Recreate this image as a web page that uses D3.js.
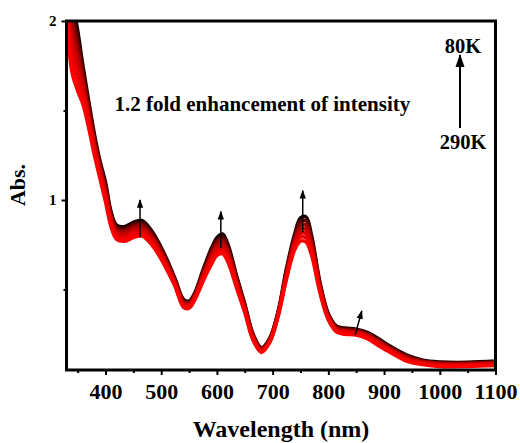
<!DOCTYPE html>
<html>
<head>
<meta charset="utf-8">
<script src="https://cdn.jsdelivr.net/npm/d3@7"></script>
<style>
  body { margin: 0; background: #fff; }
  svg { display: block; font-family: "Liberation Serif", "Times New Roman", serif; font-weight: bold; }
</style>
</head>
<body>
<div id="chart"></div>
<script>
// wavelength grid (nm) shared by all the spectra
let wavelength = [330, 340, 350, 360, 370, 380, 390, 400, 410, 420,
  435, 450, 465, 480, 495, 510, 525, 540, 550, 560,
  575, 590, 600, 610, 620, 635, 650, 665, 680, 695,
  710, 725, 740, 750, 760, 770, 785, 800, 815, 830,
  850, 870, 890, 910, 940, 970, 1000, 1050, 1100];

let abs290K = [2.02, 1.71, 1.61, 1.53, 1.40, 1.25, 1.12, 0.99, 0.85, 0.78,
  0.77, 0.79, 0.80, 0.76, 0.695, 0.61, 0.515, 0.40, 0.395, 0.44,
  0.545, 0.64, 0.69, 0.70, 0.65, 0.51, 0.37, 0.215, 0.148, 0.205,
  0.35, 0.56, 0.725, 0.77, 0.765, 0.69, 0.48, 0.33, 0.262, 0.25,
  0.245, 0.225, 0.185, 0.15, 0.10, 0.08, 0.07, 0.07, 0.075];

let abs260K = [2.075, 1.78, 1.665, 1.565, 1.425, 1.27, 1.137, 1.008, 0.864, 0.793,
  0.784, 0.804, 0.814, 0.773, 0.707, 0.62, 0.523, 0.408, 0.402, 0.447,
  0.556, 0.655, 0.707, 0.718, 0.667, 0.522, 0.378, 0.221, 0.153, 0.209,
  0.355, 0.57, 0.74, 0.792, 0.788, 0.708, 0.49, 0.336, 0.268, 0.256,
  0.25, 0.231, 0.192, 0.156, 0.106, 0.084, 0.074, 0.074, 0.079];

let abs230K = [2.13, 1.85, 1.725, 1.60, 1.45, 1.29, 1.153, 1.027, 0.878, 0.807,
  0.797, 0.818, 0.828, 0.787, 0.718, 0.63, 0.53, 0.415, 0.408, 0.453,
  0.567, 0.67, 0.723, 0.737, 0.683, 0.533, 0.387, 0.227, 0.157, 0.213,
  0.36, 0.58, 0.755, 0.813, 0.812, 0.727, 0.50, 0.342, 0.273, 0.262,
  0.256, 0.237, 0.198, 0.162, 0.112, 0.088, 0.078, 0.078, 0.083];

let abs200K = [2.185, 1.915, 1.78, 1.635, 1.475, 1.31, 1.17, 1.045, 0.893, 0.82,
  0.811, 0.833, 0.843, 0.80, 0.73, 0.64, 0.538, 0.423, 0.415, 0.46,
  0.578, 0.685, 0.74, 0.755, 0.70, 0.545, 0.395, 0.233, 0.162, 0.218,
  0.365, 0.59, 0.77, 0.835, 0.835, 0.745, 0.51, 0.348, 0.279, 0.268,
  0.262, 0.243, 0.205, 0.168, 0.118, 0.093, 0.083, 0.082, 0.088];

let abs160K = [2.24, 1.985, 1.835, 1.67, 1.50, 1.33, 1.187, 1.063, 0.907, 0.833,
  0.825, 0.847, 0.857, 0.813, 0.742, 0.65, 0.545, 0.43, 0.422, 0.467,
  0.588, 0.70, 0.757, 0.773, 0.717, 0.557, 0.403, 0.238, 0.166, 0.222,
  0.37, 0.60, 0.785, 0.857, 0.858, 0.763, 0.52, 0.353, 0.284, 0.273,
  0.267, 0.248, 0.212, 0.173, 0.123, 0.097, 0.087, 0.085, 0.092];

let abs120K = [2.295, 2.05, 1.895, 1.705, 1.525, 1.35, 1.203, 1.082, 0.921, 0.847,
  0.838, 0.861, 0.871, 0.827, 0.753, 0.66, 0.553, 0.438, 0.428, 0.473,
  0.599, 0.715, 0.773, 0.792, 0.733, 0.568, 0.412, 0.244, 0.171, 0.226,
  0.375, 0.61, 0.80, 0.878, 0.882, 0.782, 0.53, 0.359, 0.29, 0.279,
  0.273, 0.254, 0.218, 0.179, 0.129, 0.101, 0.091, 0.089, 0.096];

let abs80K = [2.35, 2.12, 1.95, 1.74, 1.55, 1.37, 1.22, 1.10, 0.935, 0.86,
  0.852, 0.875, 0.885, 0.84, 0.765, 0.67, 0.56, 0.445, 0.435, 0.48,
  0.61, 0.73, 0.79, 0.81, 0.75, 0.58, 0.42, 0.25, 0.175, 0.23,
  0.38, 0.62, 0.815, 0.90, 0.905, 0.80, 0.54, 0.365, 0.295, 0.285,
  0.278, 0.26, 0.225, 0.185, 0.135, 0.105, 0.095, 0.093, 0.10];

let temperatures = ["290K", "260K", "230K", "200K", "160K", "120K", "80K"];
let spectra = [abs290K, abs260K, abs230K, abs200K, abs160K, abs120K, abs80K];
let lineColors = ["#ff0000", "#f00000", "#dc0000", "#c20000", "#9c0000", "#640000", "#1c0000"];

let xTicks = [400, 500, 600, 700, 800, 900, 1000, 1100];
let xMinorTicks = [350, 450, 550, 650, 750, 850, 950, 1050];
let yTicks = [1, 2];
let yMinorTicks = [0.5, 1.5];

// little arrows over the bands (start wavelength/abs -> tip wavelength/abs)
let arrowFromNm = [462, 607, 754, 848];
let arrowFromAbs = [0.79, 0.73, 0.82, 0.245];
let arrowToNm = [462, 607, 754, 860];
let arrowToAbs = [1.0, 0.935, 1.052, 0.38];

let margin = { top: 21, right: 24.5, bottom: 73, left: 66.5 };
let width = 520 - margin.left - margin.right;
let height = 443 - margin.top - margin.bottom;

var xScale = d3.scaleLinear()
    .domain([330, 1100])
    .range([0, width]);

var yScale = d3.scaleLinear()
    .domain([0.05, 2])
    .range([height, 0]);

var svg = d3.select("#chart").append("svg")
    .attr("width", 520)
    .attr("height", 443);

var defs = svg.append("defs");
defs.append("clipPath").attr("id", "plotClip")
  .append("rect")
    .attr("width", width)
    .attr("height", height);

defs.append("marker")
    .attr("id", "headSmall")
    .attr("viewBox", "0 -4 10 8")
    .attr("refX", 9)
    .attr("refY", 0)
    .attr("markerUnits", "userSpaceOnUse")
    .attr("markerWidth", 10)
    .attr("markerHeight", 7)
    .attr("orient", "auto")
  .append("path")
    .attr("d", "M0,-3.6L10,0L0,3.6Z")
    .attr("fill", "#000");

defs.append("marker")
    .attr("id", "headBig")
    .attr("viewBox", "0 -5 13 10")
    .attr("refX", 12)
    .attr("refY", 0)
    .attr("markerUnits", "userSpaceOnUse")
    .attr("markerWidth", 13)
    .attr("markerHeight", 10)
    .attr("orient", "auto")
  .append("path")
    .attr("d", "M0,-4.5L13,0L0,4.5Z")
    .attr("fill", "#000");

var chart = svg.append("g")
    .attr("transform", "translate(" + margin.left + "," + margin.top + ")");

// spectra
var line = d3.line()
    .x((d, i) => xScale(wavelength[i]))
    .y(d => yScale(d))
    .curve(d3.curveCatmullRom.alpha(0.5));

var curves = chart.append("g").attr("clip-path", "url(#plotClip)");
// draw the cold (dark) ones first so the red ones sit on top where they overlap
for (let k = spectra.length - 1; k >= 0; k--) {
  curves.append("path")
      .datum(spectra[k])
      .attr("class", "spectrum t" + temperatures[k])
      .attr("fill", "none")
      .attr("stroke", lineColors[k])
      .attr("stroke-width", 3.5)
      .attr("d", line);
}

// arrows on the bands
arrowFromNm.forEach(function (nm, i) {
  chart.append("line")
      .attr("x1", xScale(nm))
      .attr("y1", yScale(arrowFromAbs[i]))
      .attr("x2", xScale(arrowToNm[i]))
      .attr("y2", yScale(arrowToAbs[i]))
      .attr("stroke", "#000")
      .attr("stroke-width", 1.5)
      .attr("marker-end", "url(#headSmall)");
});

// axes
var xAxis = chart.append("g")
    .attr("transform", "translate(0," + height + ")")
    .call(d3.axisBottom(xScale).tickValues(xTicks).tickSize(5).tickPadding(8.5).tickFormat(d3.format("d")));
xAxis.select(".domain").remove();

var xMinor = chart.append("g")
    .attr("transform", "translate(0," + height + ")")
    .call(d3.axisBottom(xScale).tickValues(xMinorTicks).tickSize(3).tickFormat(""));
xMinor.select(".domain").remove();

var yAxis = chart.append("g")
    .call(d3.axisLeft(yScale).tickValues(yTicks).tickSize(5).tickPadding(5).tickFormat(d3.format("d")));
yAxis.select(".domain").remove();

var yMinor = chart.append("g")
    .call(d3.axisLeft(yScale).tickValues(yMinorTicks).tickSize(3).tickFormat(""));
yMinor.select(".domain").remove();

[xAxis, xMinor, yAxis, yMinor].forEach(g => g.attr("font-family", null).attr("font-size", null));
xAxis.selectAll("text").attr("font-size", "22px").attr("fill", "#000");
yAxis.selectAll("text").attr("font-size", "15px").attr("fill", "#000");
chart.selectAll(".tick line").attr("stroke", "#000").attr("stroke-width", 2);

// frame
chart.append("rect")
    .attr("width", width)
    .attr("height", height)
    .attr("fill", "none")
    .attr("stroke", "#000")
    .attr("stroke-width", 3);

// axis titles
svg.append("text")
    .attr("x", 281)
    .attr("y", 437)
    .attr("text-anchor", "middle")
    .attr("font-size", "24px")
    .text("Wavelength (nm)");

svg.append("text")
    .attr("transform", "translate(25,185) rotate(-90)")
    .attr("text-anchor", "middle")
    .attr("font-size", "22px")
    .text("Abs.");

// annotation
chart.append("text")
    .attr("x", 48)
    .attr("y", 90)
    .attr("font-size", "21px")
    .text("1.2 fold enhancement of intensity");

chart.append("text")
    .attr("x", 396.5)
    .attr("y", 32)
    .attr("text-anchor", "middle")
    .attr("font-size", "20.5px")
    .text("80K");

chart.append("text")
    .attr("x", 396.5)
    .attr("y", 128)
    .attr("text-anchor", "middle")
    .attr("font-size", "20.5px")
    .text("290K");

chart.append("line")
    .attr("x1", 393.5)
    .attr("y1", 107)
    .attr("x2", 393.5)
    .attr("y2", 34)
    .attr("stroke", "#000")
    .attr("stroke-width", 2)
    .attr("marker-end", "url(#headBig)");
</script>
</body>
</html>
